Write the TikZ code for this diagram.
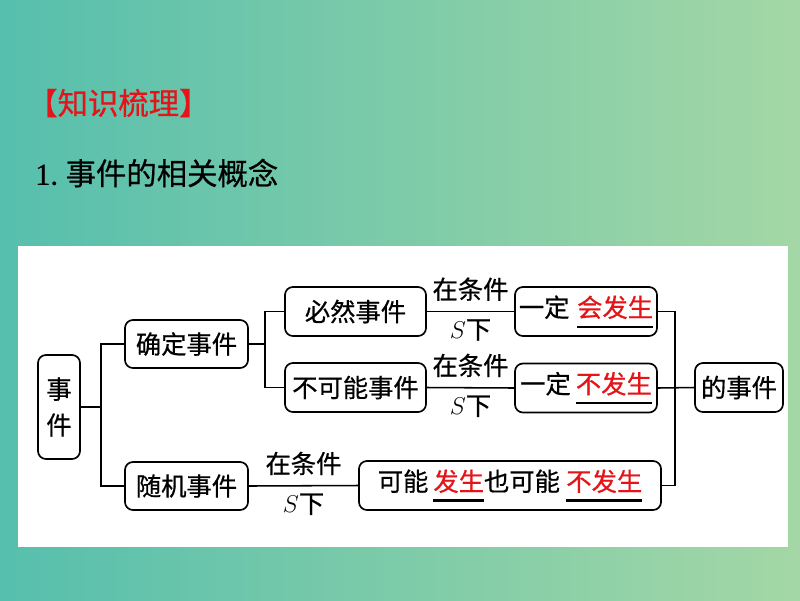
\documentclass[tikz,border=0pt]{standalone}
\usepackage{fontspec}
\setmainfont{Noto Sans CJK SC}[FakeBold=0.6]
\newfontfamily\serifnum{Liberation Serif}[FakeBold=0.6]

\definecolor{hlred}{RGB}{228,20,24}
\definecolor{bgleft}{RGB}{86,191,173}
\definecolor{bgmid}{RGB}{135,206,167}
\definecolor{bgright}{RGB}{164,215,165}

\newcommand\boxfont{\fontsize{18}{25.5}\selectfont}
\newcommand\titlefont{\fontsize{21.6}{26}\selectfont}
% red answer with a blank line under it
\newcommand\fillblank[1]{\setbox0\hbox{\textcolor{hlred}{#1}}\rlap{\rule[-0.42em]{\wd0}{0.08em}}\box0}

\begin{document}
\begin{tikzpicture}[x=0.025cm, y=-0.025cm,
    evbox/.style={draw, line width=1.2pt, rounded corners=0.2cm, inner sep=0pt,
        minimum height=1.225cm, font=\boxfont},
    cond/.style={font=\boxfont, inner sep=1pt},
    link/.style={line width=1.1pt}]

    % background and the white card
    \useasboundingbox (0,0) rectangle (800,600);
    \shade[left color=bgleft, middle color=bgmid, right color=bgright] (0,0) rectangle (800,600);
    \fill[white] (18,246) rectangle (788,547);

    % headings
    \node[anchor=west, inner sep=0pt, text=hlred, font=\titlefont] (title) at (27,103) {【知识梳理】};
    \node[anchor=west, inner sep=0pt, font=\titlefont] (subtitle) at (35,173) {{\serifnum 1.}\hspace{0.25em}事件的相关概念};

    % the boxes
    \node[evbox, minimum width=1.05cm, minimum height=2.6cm, align=center] (ev) at (59,407) {事\\件};
    \node[evbox, minimum width=3.075cm, minimum height=1.2cm] (det) at (186.5,344) {确定事件};
    \node[evbox, minimum width=3.075cm, minimum height=1.2cm] (rnd) at (186.5,486) {随机事件};
    \node[evbox, minimum width=3.525cm] (sure) at (355.5,311.5) {必然事件};
    \node[evbox, minimum width=3.525cm] (imp) at (355.5,387.5) {不可能事件};
    \node[evbox, minimum width=3.55cm] (must) at (586,311.5) {一定\hspace{0.3em}\fillblank{会发生}};
    \node[evbox, minimum width=3.55cm] (never) at (586,388) {一定\hspace{0.2em}\fillblank{不发生}};
    \node[evbox, minimum width=7.55cm] (maybe) at (510,485.5) {可能\hspace{0.2em}\fillblank{发生}也可能\hspace{0.25em}\fillblank{不发生}};
    \node[evbox, minimum width=2.2cm] (res) at (739,387.5) {的事件};

    % branch points
    \coordinate (j1) at (101,407);
    \coordinate (j2) at (265,344);
    \coordinate (j3) at (675,387);

    \draw[link] (ev.east) -- (j1);
    \draw[link] (det.west) -| (j1) |- (rnd.west);
    \draw[link] (det.east) -- (j2);
    \draw[link] (sure.west) -| (j2) |- (imp.west);

    % "under condition S"
    \foreach \a/\b in {sure/must, imp/never, rnd/maybe} {
        \draw[link] (\a.east) -- node[cond, above=6pt] {在条件} node[cond, below=4pt] {$S$下} (\b.west);
    }

    \draw[link] (must.east) -| (j3) |- (maybe.east);
    \draw[link] (never.east) -- (res.west);

\end{tikzpicture}
\end{document}
